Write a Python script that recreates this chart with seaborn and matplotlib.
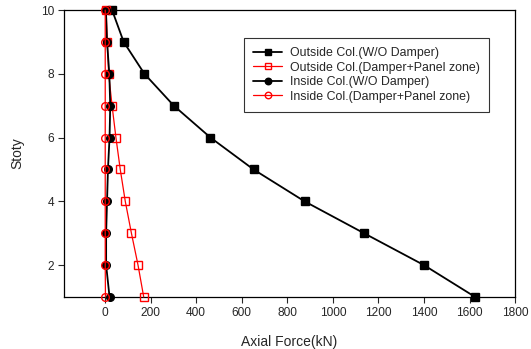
import matplotlib
matplotlib.use("Agg")
import matplotlib.pyplot as plt
import seaborn as sns
import pandas as pd

stories = [10, 9, 8, 7, 6, 5, 4, 3, 2, 1]
outside_wo = [31, 82, 173, 302, 463, 652, 876, 1137, 1400, 1625]
outside_dp = [5, 10, 16, 31, 48, 67, 89, 116, 145, 170]
inside_wo = [4, 9, 19, 23, 20, 13, 9, 5, 5, 20]
inside_dp = [1, 1, 1, 1, 1, 1, 1, 1, 1, 2]

labels = ["Outside Col.(W/O Damper)", "Outside Col.(Damper+Panel zone)",
          "Inside Col.(W/O Damper)", "Inside Col.(Damper+Panel zone)"]

sns.set_style("ticks")
plt.rcParams['font.family'] = ['Liberation Sans', 'DejaVu Sans']

fig = plt.figure(figsize=(5.31, 3.49), dpi=100)
ax = fig.add_axes([0.1205, 0.149, 0.8495, 0.8223])

styles = [
    dict(color="black", marker="s", mfc="black", mec="black", lw=1.3, ms=5.5),
    dict(color="red", marker="s", mfc="none", mec="red", lw=0.9, ms=5.5),
    dict(color="black", marker="o", mfc="black", mec="black", lw=1.3, ms=5.5),
    dict(color="red", marker="o", mfc="none", mec="red", lw=0.9, ms=5.5),
]
series = [outside_wo, outside_dp, inside_wo, inside_dp]

for vals, lab, st in zip(series, labels, styles):
    df = pd.DataFrame({"force": vals, "story": stories})
    sns.lineplot(data=df, x="force", y="story", sort=False, estimator=None,
                 color=st["color"], marker=st["marker"], markerfacecolor=st["mfc"],
                 markeredgecolor=st["mec"], markeredgewidth=1.0, linewidth=st["lw"],
                 markersize=st["ms"], label=lab, ax=ax, clip_on=False, zorder=3)

ax.set_xlim(-180, 1800)
ax.set_ylim(1, 10)
ax.set_xticks(range(0, 1801, 200))
ax.set_yticks([2, 4, 6, 8, 10])
ax.tick_params(axis='both', direction='out', length=4, width=0.8, labelsize=8.6, pad=3,
               top=False, right=False)
for s in ax.spines.values():
    s.set_visible(True)
    s.set_linewidth(0.9)
    s.set_color("black")
ax.set_xlabel("Axial Force(kN)", fontsize=10, labelpad=12)
ax.set_ylabel("Stoty", fontsize=10, labelpad=12)

leg = ax.legend(loc="upper left", bbox_to_anchor=(244/531, 1 - 38/349),
                bbox_transform=fig.transFigure, fontsize=8.9, frameon=True,
                fancybox=False, edgecolor="black", handlelength=2.35,
                handletextpad=0.6, borderpad=0.75, labelspacing=0.2, borderaxespad=0,
                markerscale=0.85)
leg.get_frame().set_linewidth(0.8)

fig.savefig("out.png", dpi=100)
